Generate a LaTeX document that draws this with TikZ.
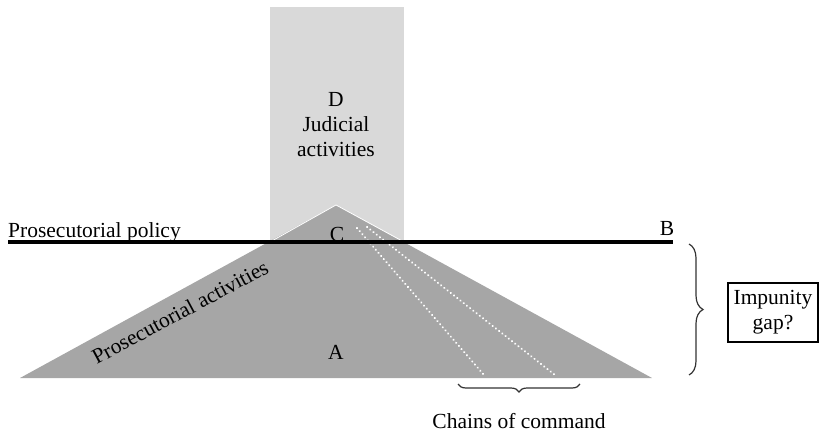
\documentclass[tikz,border=0pt]{standalone}
\usepackage{fontspec}
\setmainfont{Liberation Serif}
\usetikzlibrary{decorations.pathreplacing}
\definecolor{lightg}{HTML}{D9D9D9}
\definecolor{darkg}{HTML}{A6A6A6}
\tikzset{
  lbl/.style={font=\fontsize{21.5}{25}\selectfont, inner sep=0pt},
  dotline/.style={white, line width=2.2pt, dash pattern=on 0.1pt off 4pt, line cap=round},
  bracestyle/.style={decorate, decoration={brace, amplitude=8pt}, line width=1.2pt, black!80},
}
\begin{document}
\begin{tikzpicture}[x=1pt,y=-1pt]
\useasboundingbox (0,0) rectangle (824,434);
% judicial column
\fill[lightg] (270,7) rectangle (404,240);
% triangle
\coordinate (apex) at (336,205);
\coordinate (bl) at (20,378);
\coordinate (br) at (652,378);
\fill[darkg] (bl) -- (apex) -- (br) -- cycle;
\draw[white, line width=0.8pt] (270,242) -- (apex) -- (404,242);
% dotted chains
\coordinate (d1s) at (357,228); \coordinate (d1e) at (484,375);
\coordinate (d2s) at (367,227); \coordinate (d2e) at (555,375);
\draw[dotline] (d1s) -- (d1e);
\draw[dotline] (d2s) -- (d2e);
% policy line
\coordinate (pl) at (8,242); \coordinate (pr) at (673,242);
\draw[line width=4pt] (pl) -- (pr);
% texts
\node[lbl, anchor=base west] (pol) at (8,237) {Prosecutorial policy};
\node[lbl] (B) at (667,228) {B};
\node[lbl] (C) at (337,234) {C};
\node[lbl, align=center] (D) at (336,125) {D\\Judicial\\activities};
\node[lbl] (A) at (336,352) {A};
\node[lbl, rotate=28.2] (pa) at (180,312) {Prosecutorial activities};
% chains of command brace
\coordinate (cb1) at (580,384); \coordinate (cb2) at (458,384);
\draw[bracestyle] (cb1) -- (cb2) node[midway] (cbm) {};
\node[lbl] (chains) at (519,421) {Chains of command};
% impunity brace
\coordinate (ib1) at (689,244); \coordinate (ib2) at (689,375);
\draw[bracestyle, decoration={amplitude=14pt}] (ib1) -- (ib2);
\node[lbl, draw, line width=1.2pt, minimum width=90pt, minimum height=59pt, align=center] (gap) at (773,312.5) {Impunity\\gap?};
\end{tikzpicture}
\end{document}
